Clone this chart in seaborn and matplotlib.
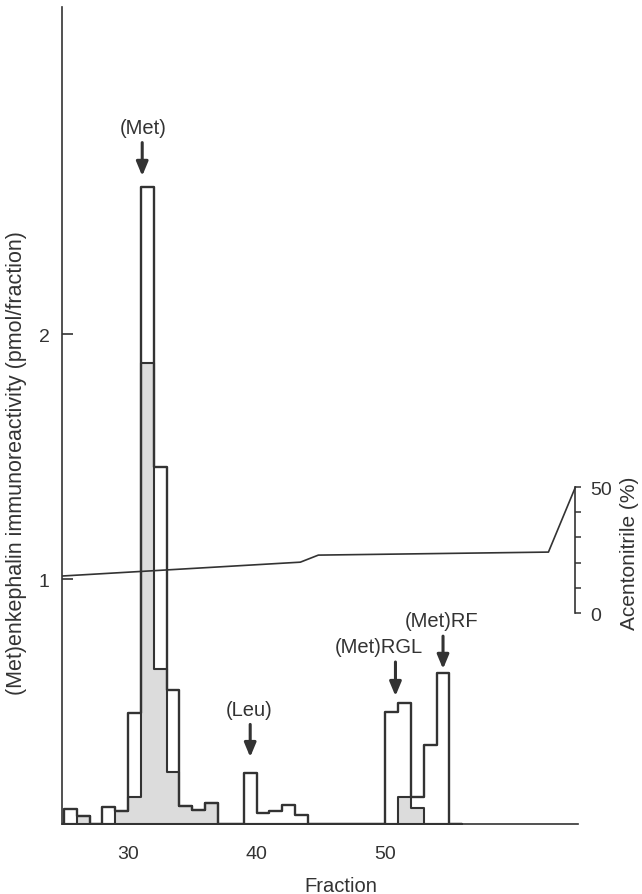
import numpy as np
import pandas as pd
import matplotlib
matplotlib.use("Agg")
import matplotlib.pyplot as plt
import seaborn as sns

# HPLC fractions (left edge of each fraction bin)
fractions = list(range(24, 56))
# total immunoreactivity per fraction, pmol (outlined bars)
total = [0, 0.061, 0.033, 0, 0.069, 0.053, 0.453, 2.60, 1.457, 0.547, 0.073, 0.057,
         0.086, 0, 0, 0.208, 0.045, 0.053, 0.078, 0.037, 0, 0, 0, 0, 0, 0,
         0.457, 0.494, 0.110, 0.322, 0.616, 0]
# shaded part
shaded = [0, 0, 0.033, 0, 0, 0.053, 0.110, 1.882, 0.633, 0.212, 0.073, 0.057,
          0.086, 0, 0, 0, 0, 0, 0, 0, 0, 0, 0, 0, 0, 0,
          0, 0.110, 0.065, 0, 0, 0]

# acetonitrile gradient (%)
grad_x = [24.86, 43.4, 44.8, 62.7, 64.8]
grad_y = [14.7, 20.2, 23.0, 24.2, 50.0]

peaks = ["(Met)", "(Leu)", "(Met)RGL", "(Met)RF"]
peak_x = [31.1, 39.5, 50.8, 54.5]
peak_top = [2.60, 0.208, 0.494, 0.616]

df = pd.DataFrame({"fraction": np.array(fractions) + 0.5, "total": total, "shaded": shaded})

sns.set_style("white")
plt.rcParams["font.family"] = ["Liberation Sans", "DejaVu Sans"]
ink = "#333333"

fig = plt.figure(figsize=(6.42, 8.95), dpi=100)
ax = fig.add_axes([62 / 642, 70 / 895, 516 / 642, 817 / 895])

sns.histplot(data=df, x="fraction", weights="shaded", binwidth=1, binrange=(24, 56),
             element="step", fill=True, color="#dcdcdc", alpha=1, edgecolor=ink,
             linewidth=1.5, ax=ax)
sns.histplot(data=df, x="fraction", weights="total", binwidth=1, binrange=(24, 56),
             element="step", fill=False, color=ink, linewidth=1.7, ax=ax)

ax.set_xlim(24.86, 65.0)
ax.set_ylim(0, 3.335)
ax.set_xticks([30, 40, 50])
ax.set_yticks([1, 2])
ax.tick_params(axis="x", direction="out", length=7, width=1.2, pad=8,
               colors=ink, labelsize=14)
ax.tick_params(axis="y", direction="in", length=8, width=1.2, pad=9,
               colors=ink, labelsize=14)
for s in ["top", "right"]:
    ax.spines[s].set_visible(False)
for s in ["left", "bottom"]:
    ax.spines[s].set_color(ink)
    ax.spines[s].set_linewidth(1.2)

ax.set_xlabel("Fraction", fontsize=14.5, color=ink)
ax.xaxis.set_label_coords(0.54, -0.064)
ax.set_ylabel("(Met)enkephalin immunoreactivity (pmol/fraction)", fontsize=15.5, color=ink)
ax.yaxis.set_label_coords(-0.068, 0.443)

# peak markers
arrow_gap = [8, 11.5, 5, 3]
arrow_len = [32, 35, 29.5, 26.6]
label_dx = [1, -1, -12, -1]
for name, px, top, g, L, dx in zip(peaks, peak_x, peak_top, arrow_gap, arrow_len, label_dx):
    ax.annotate("", xy=(px, top), xytext=(0, L), textcoords="offset points",
                arrowprops=dict(arrowstyle="-|>,head_length=0.6,head_width=0.25",
                                lw=2.2, color=ink, shrinkA=0, shrinkB=g,
                                mutation_scale=14))
    ax.annotate(name, xy=(px, top), xytext=(dx, L + 11), textcoords="offset points",
                ha="center", va="center", fontsize=14.5, color=ink)

# acetonitrile axis
ax2 = ax.twinx()
sns.lineplot(x=grad_x, y=grad_y, color=ink, linewidth=1.2, ax=ax2)
ax2.set_ylim(-83.7, 240.5)
ax2.set_xlim(24.86, 65.0)
ax2.spines["right"].set_position(("data", 64.8))
ax2.spines["right"].set_bounds(0, 50)
ax2.spines["right"].set_color(ink)
ax2.spines["right"].set_linewidth(1.2)
for s in ["top", "left", "bottom"]:
    ax2.spines[s].set_visible(False)
ax2.set_yticks([0, 10, 20, 30, 40, 50])
ax2.set_yticklabels(["0", "", "", "", "", "50"])
ax2.tick_params(axis="y", direction="out", length=4, width=1.1, pad=7,
                colors=ink, labelsize=14)
ax2.set_ylabel("Acentonitrile (%)", fontsize=15, color=ink)
ax2.yaxis.set_label_coords(1.082, 0.333)

fig.savefig("out.png", dpi=100)
